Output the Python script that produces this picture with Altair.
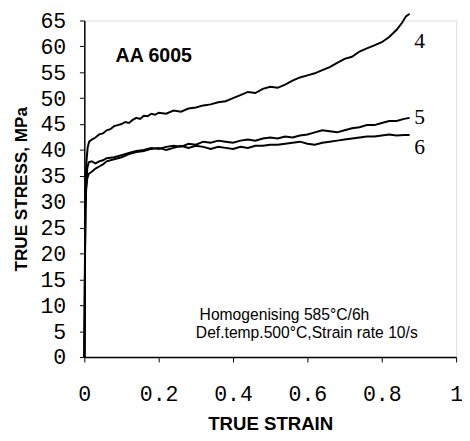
import altair as alt
import pandas as pd

# Curve 4
x4 = [0, 0.001, 0.002, 0.003, 0.004, 0.006, 0.009, 0.013, 0.02, 0.03, 0.04, 0.05, 0.06, 0.07, 0.08, 0.09,
      0.10, 0.11, 0.12, 0.13, 0.14, 0.15, 0.16, 0.17, 0.18, 0.19, 0.20, 0.22, 0.24, 0.26, 0.28, 0.30,
      0.32, 0.34, 0.36, 0.38, 0.40, 0.42, 0.44, 0.46, 0.48, 0.50, 0.52, 0.54, 0.56, 0.58, 0.60, 0.62,
      0.64, 0.66, 0.68, 0.70, 0.72, 0.74, 0.76, 0.78, 0.80, 0.82, 0.84, 0.855, 0.865, 0.875]
y4 = [0, 10, 22, 30, 35, 38, 40.5, 41.6, 42.0, 42.4, 43.0, 43.2, 43.8, 44.0, 44.6, 44.8,
      45.0, 45.4, 45.2, 45.8, 46.2, 46.0, 46.6, 46.5, 47.0, 46.8, 47.2, 47.0, 47.6, 47.4, 48.0, 48.2,
      48.6, 48.8, 49.2, 49.4, 50.0, 50.6, 51.2, 51.0, 51.8, 52.2, 52.0, 52.6, 53.4, 54.0, 54.4, 54.8,
      55.4, 56.0, 56.8, 57.6, 58.0, 59.0, 59.6, 60.2, 60.8, 61.8, 63.2, 64.6, 65.8, 66.3]

# Curve 5
x5 = [0, 0.001, 0.002, 0.003, 0.005, 0.008, 0.012, 0.02, 0.03, 0.04, 0.05, 0.06, 0.08, 0.10, 0.12,
      0.14, 0.16, 0.18, 0.20, 0.22, 0.24, 0.26, 0.28, 0.30, 0.32, 0.34, 0.36, 0.38, 0.40, 0.42, 0.44,
      0.46, 0.48, 0.50, 0.52, 0.54, 0.56, 0.58, 0.60, 0.62, 0.64, 0.66, 0.68, 0.70, 0.72, 0.74, 0.76,
      0.78, 0.80, 0.82, 0.84, 0.86, 0.875]
y5 = [0, 8, 20, 28, 33, 36.5, 37.6, 37.8, 37.4, 37.8, 38.0, 38.4, 38.6, 39.0, 39.4,
      39.8, 40.0, 40.4, 40.2, 40.6, 40.8, 40.6, 41.2, 41.0, 41.6, 41.4, 41.8, 41.6, 41.4, 41.8, 42.0,
      41.8, 42.2, 42.4, 42.2, 42.6, 42.4, 42.8, 43.0, 43.4, 43.8, 43.6, 43.4, 43.8, 44.2, 44.4, 44.8,
      44.8, 45.2, 45.6, 45.6, 46.0, 46.2]

# Curve 6
x6 = [0, 0.001, 0.002, 0.003, 0.005, 0.008, 0.012, 0.02, 0.03, 0.04, 0.05, 0.06, 0.08, 0.10, 0.12,
      0.14, 0.16, 0.18, 0.20, 0.22, 0.24, 0.26, 0.28, 0.30, 0.32, 0.34, 0.36, 0.38, 0.40, 0.42, 0.44,
      0.46, 0.48, 0.50, 0.52, 0.54, 0.56, 0.58, 0.60, 0.62, 0.64, 0.66, 0.68, 0.70, 0.72, 0.74, 0.76,
      0.78, 0.80, 0.82, 0.84, 0.86, 0.875]
y6 = [0, 9, 21, 29, 32.5, 34.5, 35.4, 35.8, 36.4, 36.8, 37.2, 37.8, 38.2, 38.6, 39.2,
      39.6, 39.8, 40.2, 40.4, 40.0, 40.4, 40.8, 40.4, 40.8, 40.6, 40.2, 40.6, 40.4, 40.2, 40.6, 40.4,
      40.8, 40.8, 41.0, 41.0, 41.2, 41.4, 41.6, 41.2, 41.0, 41.4, 41.6, 41.8, 42.0, 42.2, 42.4, 42.6,
      42.6, 42.8, 43.0, 42.8, 42.9, 42.9]

curve_labels = ["4", "5", "6"]
label_x = [0.902, 0.902, 0.902]
label_y = [61.0, 46.3, 40.6]

notes = ["Homogenising 585°C/6h", "Def.temp.500°C,Strain rate 10/s"]
notes_x = [0.31, 0.30]
notes_y = [8.1, 4.7]

x_ticks = [0, 0.2, 0.4, 0.6, 0.8, 1]
y_ticks = [0, 5, 10, 15, 20, 25, 30, 35, 40, 45, 50, 55, 60, 65]

rows = []
for name, xs, ys in [("4", x4, y4), ("5", x5, y5), ("6", x6, y6)]:
    for i, (a, b) in enumerate(zip(xs, ys)):
        rows.append({"series": name, "strain": a, "stress": b, "i": i})
df = pd.DataFrame(rows)

xscale = alt.Scale(domain=[0, 1], nice=False)
yscale = alt.Scale(domain=[0, 65], nice=False)

xaxis = alt.Axis(values=x_ticks, format="~g", title="TRUE STRAIN", grid=False,
                 labelFont="Liberation Mono", labelFontSize=22, labelColor="black",
                 labelPadding=22, tickSize=5, tickColor="black",
                 labelOverlap=False, labelFlush=False,
                 domainColor="black", domainWidth=1.5,
                 titleFont="Liberation Sans", titleFontSize=19, titleFontWeight="bold",
                 titleColor="black", titlePadding=11)
yaxis = alt.Axis(values=y_ticks, title="TRUE STRESS, MPa", grid=False,
                 labelFont="Liberation Mono", labelFontSize=22, labelColor="black",
                 labelPadding=14, tickSize=5, tickColor="black",
                 labelOverlap=False, labelFlush=False,
                 domainColor="black", domainWidth=1.5,
                 titleFont="Liberation Sans", titleFontSize=17.5, titleFontWeight="bold",
                 titleColor="black", titlePadding=10)

lines = alt.Chart(df).mark_line(color="black", strokeWidth=2, clip=False).encode(
    x=alt.X("strain:Q", scale=xscale, axis=xaxis),
    y=alt.Y("stress:Q", scale=yscale, axis=yaxis),
    detail="series:N",
    order="i:Q",
)

lab_df = pd.DataFrame({"t": curve_labels, "x": label_x, "y": label_y})
labels = alt.Chart(lab_df).mark_text(font="Liberation Serif", fontSize=22, color="black",
                                     align="center", baseline="middle").encode(
    x=alt.X("x:Q", scale=xscale, axis=xaxis), y=alt.Y("y:Q", scale=yscale, axis=yaxis), text="t:N")

title_df = pd.DataFrame({"t": ["AA 6005"], "x": [0.084], "y": [58.2]})
title_txt = alt.Chart(title_df).mark_text(font="Liberation Sans", fontSize=20, fontWeight="bold",
                                          color="black", align="left", baseline="middle").encode(
    x=alt.X("x:Q", scale=xscale, axis=xaxis), y=alt.Y("y:Q", scale=yscale, axis=yaxis), text="t:N")

notes_df = pd.DataFrame({"t": notes, "x": notes_x, "y": notes_y})
notes_txt = alt.Chart(notes_df).mark_text(font="Liberation Sans", fontSize=16, color="black",
                                          align="left", baseline="middle").encode(
    x=alt.X("x:Q", scale=xscale, axis=xaxis), y=alt.Y("y:Q", scale=yscale, axis=yaxis), text="t:N")

chart = alt.layer(lines, labels, title_txt, notes_txt).properties(
    width=380, height=344,
    autosize=alt.AutoSizeParams(type="none"),
    padding={"left": 78, "top": 8, "right": 6, "bottom": 81},
).configure_view(stroke="#777777", strokeWidth=1).configure(background="white")

chart.save("out.html", embed_options={"renderer": "svg", "actions": False})
